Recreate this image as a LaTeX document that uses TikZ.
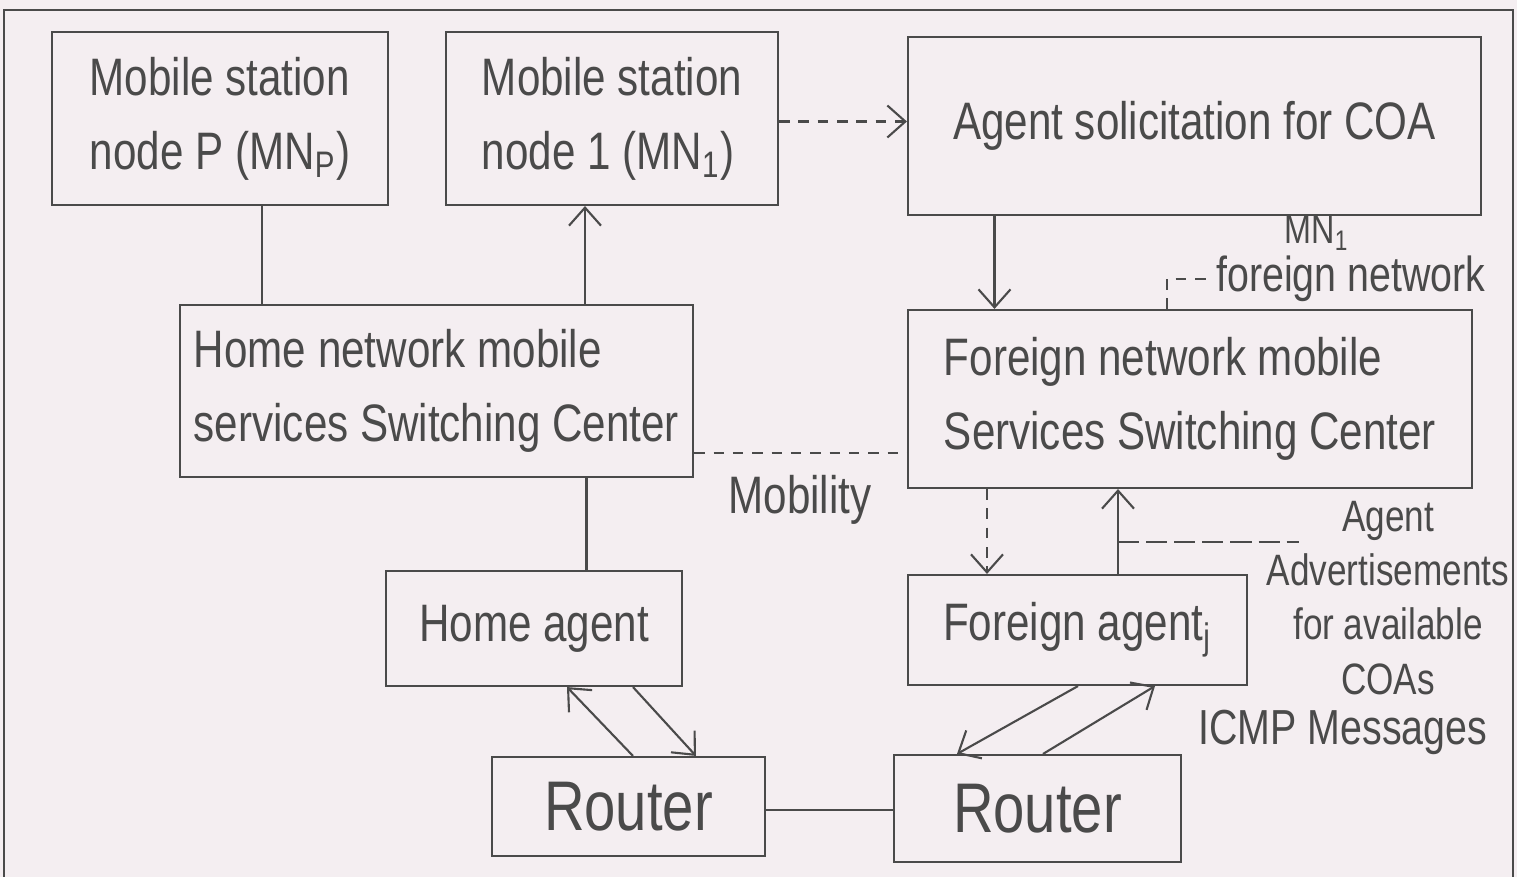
\documentclass[tikz,border=0pt]{standalone}
\usepackage{fontspec}
\setmainfont{Liberation Sans}[FakeStretch=0.8]
\usetikzlibrary{positioning,arrows.meta,calc}
\definecolor{paper}{HTML}{F4EEF1}
\definecolor{ink}{HTML}{4A4A4A}

\begin{document}
\begin{tikzpicture}[
    unit/.style={rectangle, draw=ink, line width=0.6pt, text=ink,
      align=left, inner sep=4pt, font=\fontsize{15}{21}\selectfont},
    routerbox/.style={unit, font=\fontsize{20}{24}\selectfont},
    conn/.style={draw=ink, line width=0.6pt},
    arr/.style={conn, -{Straight Barb[length=1.8mm, width=3.2mm]}},
    dasharr/.style={arr, dash pattern=on 3pt off 2.5pt},
    dashline/.style={conn, dash pattern=on 3pt off 2.5pt},
    note/.style={text=ink, align=center, inner sep=1pt, font=\fontsize{14}{17}\selectfont},
  ]
  \fill[paper] (0,0) rectangle (15.17,-8.77);
  \useasboundingbox (0,0) rectangle (15.17,-8.77);
  % sheet frame, open at the bottom
  \draw[conn] (0.04,-8.77) |- (15.13,-0.10) -- (15.13,-8.77);

  \node[unit, minimum width=3.36cm, minimum height=1.73cm] (mnp) at (2.20,-1.185) {Mobile station\\node P (MN\textsubscript{P})};
  \node[unit, minimum width=3.32cm, minimum height=1.73cm] (mnone) at (6.12,-1.185) {Mobile station\\node 1 (MN\textsubscript{1})};
  \node[unit, minimum width=5.73cm, minimum height=1.78cm] (solicit) at (11.945,-1.26) {Agent solicitation for COA};

  \node[unit, minimum width=5.13cm, minimum height=1.72cm] (homemsc) at (4.365,-3.91) {Home network mobile\\services Switching Center};
  \node[unit, minimum width=5.64cm, minimum height=1.78cm] (foreignmsc) at (11.90,-3.99) {Foreign network mobile\\Services Switching Center};

  \node[unit, minimum width=2.96cm, minimum height=1.15cm] (homeagent) at (5.34,-6.285) {Home agent};
  \node[unit, minimum width=3.39cm, minimum height=1.10cm] (foreignagent) at (10.775,-6.30) {Foreign agent\textsubscript{j}};

  \node[routerbox, minimum width=2.73cm, minimum height=0.99cm] (routerhome) at (6.285,-8.065) {Router};
  \node[routerbox, minimum width=2.87cm, minimum height=1.07cm] (routerforeign) at (10.375,-8.085) {Router};

  % home side
  \draw[conn] ([xshift=0.42cm]mnp.south) -- ([xshift=0.42cm]mnp.south |- homemsc.north);
  \draw[arr] ([xshift=-0.27cm]mnone.south |- homemsc.north) -- ([xshift=-0.27cm]mnone.south);
  \draw[conn] ([xshift=1.50cm]homemsc.south) -- ([xshift=1.50cm]homemsc.south |- homeagent.north);
  \draw[arr] ([xshift=0.045cm]routerhome.north) -- ([xshift=0.33cm]homeagent.south);
  \draw[arr] ([xshift=0.99cm]homeagent.south) -- ([xshift=0.675cm]routerhome.north);

  % foreign side
  \draw[dasharr] ([yshift=-0.03cm]mnone.east) -- ([yshift=-0.03cm]mnone.east -| solicit.west);
  \draw[arr] ([xshift=-2cm]solicit.south) -- ([xshift=-2cm]solicit.south |- foreignmsc.north);
  \node[note, font=\fontsize{11.5}{14}\selectfont] (mnlabel) at (13.17,-2.33) {MN\textsubscript{1}};
  \node[note, anchor=west] (fnlabel) at (12.12,-2.79) {foreign network};
  \draw[dashline] ([xshift=-0.23cm]foreignmsc.north) |- (fnlabel.west);
  \draw[dasharr] ([xshift=-2.03cm]foreignmsc.south) -- ([xshift=-2.03cm]foreignmsc.south |- foreignagent.north);
  \draw[arr] ([xshift=-0.72cm]foreignmsc.south |- foreignagent.north) -- ([xshift=-0.72cm]foreignmsc.south);
  \draw[arr] ([xshift=0.005cm]foreignagent.south) -- ([xshift=-0.805cm]routerforeign.north);
  \draw[arr] ([xshift=0.055cm]routerforeign.north) -- ([xshift=0.775cm]foreignagent.south);

  % mobility between the two networks
  \draw[dashline] ([yshift=-0.62cm]homemsc.east) -- ([yshift=-0.62cm]homemsc.east -| foreignmsc.west);
  \node[note, font=\fontsize{15}{18}\selectfont] (mobility) at (8.0,-5.0) {Mobility};
  \draw[conn] ([yshift=-0.035cm]routerhome.east) -- ([yshift=-0.035cm]routerhome.east -| routerforeign.west);

  % side notes
  \coordinate (advend) at (12.99,-5.42);
  \draw[conn, dash pattern=on 6pt off 2pt] ([xshift=-0.72cm]foreignmsc.south |- advend) -- (advend);
  \node[note, font=\fontsize{12.5}{15.4}\selectfont] (advlabel) at (13.88,-5.98) {Agent\\Advertisements\\for available\\COAs};
  \node[note] (icmp) at (13.43,-7.32) {ICMP Messages};
\end{tikzpicture}
\end{document}
